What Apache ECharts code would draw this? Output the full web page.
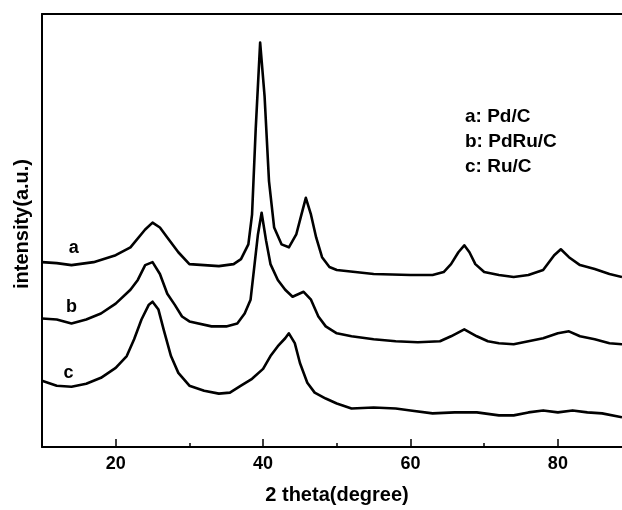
<!DOCTYPE html>
<html>
<head>
<meta charset="utf-8">
<script src="https://cdn.jsdelivr.net/npm/echarts@6/dist/echarts.min.js"></script>
<style>
  html, body { margin: 0; background: #fff; }
  #chart { width: 622px; height: 510px; }
</style>
</head>
<body>
<div id="chart"></div>
<script>
// [2 theta, intensity] (intensity in arbitrary units)
const curveA = [
  [10, 187], [12, 186], [14, 184], [17, 187], [20, 194], [22, 202], [24, 220], [25, 227],
  [26, 222], [27, 212], [28.5, 197], [30, 185], [32, 184], [34, 183], [36, 185], [37, 190],
  [38, 205], [38.5, 235], [39, 322], [39.6, 409], [40.2, 355], [40.8, 269], [41.5, 222],
  [42.5, 205], [43.5, 202], [44.5, 215], [45.2, 235], [45.8, 252], [46.5, 235], [47.2, 212],
  [48, 192], [49, 182], [50, 179], [55, 175], [60, 174], [63, 174], [64.5, 177], [65.5, 185],
  [66.5, 197], [67.3, 204], [68, 197], [68.8, 185], [70, 177], [72, 174], [74, 172], [76, 174],
  [78, 179], [79.5, 194], [80.4, 200], [81.5, 192], [83, 184], [85, 180], [87, 175], [88.7, 172]
]
const curveB = [
  [10, 130], [12, 129], [14, 125], [16, 129], [18, 135], [20, 145], [22, 159], [23, 169],
  [24, 184], [25, 187], [26, 175], [27, 155], [28, 144], [29, 132], [30, 127], [33, 122],
  [35, 122], [36.5, 125], [37.5, 135], [38.3, 149], [38.8, 182], [39.3, 215], [39.8, 237],
  [40.4, 209], [41, 185], [42, 169], [43, 159], [44, 152], [45.5, 157], [46.5, 149],
  [47.5, 132], [48.5, 122], [50, 115], [52, 112], [55, 109], [58, 107], [61, 106], [64, 107],
  [65.5, 112], [67.3, 119], [69, 112], [70.5, 107], [72, 105], [74, 104], [76, 107], [78, 110],
  [80, 115], [81.5, 117], [83, 112], [85, 109], [87, 105], [88.7, 104]
]
const curveC = [
  [10, 67], [12, 62], [14, 61], [16, 64], [18, 70], [20, 80], [21.5, 92], [22.5, 109],
  [23.5, 129], [24.5, 144], [25, 147], [25.8, 139], [26.5, 119], [27.5, 92], [28.5, 75],
  [30, 62], [32, 57], [34, 54], [35.5, 55], [37, 62], [38.5, 69], [40, 79], [41, 92],
  [42, 102], [43, 110], [43.5, 115], [44.3, 105], [45, 85], [46, 65], [47, 55], [48.5, 49],
  [50, 44], [52, 39], [55, 40], [58, 39], [60, 37], [63, 34], [66, 35], [69, 35], [72, 32],
  [74, 32], [76, 35], [78, 37], [80, 35], [82, 37], [84, 35], [86, 34], [88.7, 30]
]
const curveNames = ['a', 'b', 'c']
const curveTags = [[14.3, 201], [14.0, 142], [13.6, 75]]
const legendLines = ['a: Pd/C', 'b: PdRu/C', 'c: Ru/C']
const majorTicks = [20, 40, 60, 80]
const minorTicks = [30, 50, 70]

const font = 'Liberation Sans, Arial, sans-serif'
const chart = echarts.init(document.getElementById('chart'))

const xBase = { type: 'value', min: 10, max: 88.7, splitLine: { show: false } }

const series = [curveA, curveB, curveC].map((data, i) => ({
  type: 'line',
  name: curveNames[i],
  data,
  symbol: 'none',
  smooth: false,
  lineStyle: { color: '#000', width: 2.6, join: 'round' },
  markPoint: {
    symbol: 'circle',
    symbolSize: 1,
    itemStyle: { color: 'rgba(0,0,0,0)' },
    label: { show: true, formatter: curveNames[i], color: '#000', fontSize: 18, fontWeight: 'bold', fontFamily: font },
    data: [{ coord: curveTags[i] }]
  }
}))

chart.setOption({
  animation: false,
  backgroundColor: '#fff',
  grid: { left: 42, right: 0, top: 14, bottom: 58 },
  xAxis: [
    Object.assign({}, xBase, {
      position: 'bottom',
      name: '2 theta(degree)',
      nameLocation: 'middle',
      nameGap: 38,
      nameTextStyle: { fontSize: 20, fontWeight: 'bold', color: '#000', fontFamily: font, padding: [0, 0, 0, 10] },
      axisLine: { lineStyle: { color: '#000', width: 2 } },
      axisTick: { inside: true, length: 8, customValues: majorTicks, lineStyle: { color: '#000', width: 1.5 } },
      axisLabel: { customValues: majorTicks, fontSize: 18, fontWeight: 'bold', color: '#000', fontFamily: font, margin: 8 }
    }),
    Object.assign({}, xBase, {
      position: 'bottom',
      axisLine: { show: false },
      axisTick: { inside: true, length: 4, customValues: minorTicks, lineStyle: { color: '#000', width: 1.5 } },
      axisLabel: { show: false }
    }),
    Object.assign({}, xBase, {
      position: 'top',
      axisLine: { lineStyle: { color: '#000', width: 2 } },
      axisTick: { show: false },
      axisLabel: { show: false }
    })
  ],
  yAxis: {
    type: 'value',
    min: 0,
    max: 438,
    axisLine: { show: true, lineStyle: { color: '#000', width: 2 } },
    axisTick: { show: false },
    axisLabel: { show: false },
    splitLine: { show: false }
  },
  graphic: [{
    type: 'text',
    x: 22,
    y: 224,
    rotation: Math.PI / 2,
    style: { text: 'intensity(a.u.)', fontSize: 20, fontWeight: 'bold', fill: '#000', fontFamily: font, align: 'center', verticalAlign: 'middle' }
  }, {
    type: 'text',
    left: 465,
    top: 104,
    style: { text: legendLines.join('\n'), fontSize: 19, fontWeight: 'bold', fill: '#000', fontFamily: font, lineHeight: 25 }
  }],
  series
})

window.addEventListener('resize', () => chart.resize())
</script>
</body>
</html>
